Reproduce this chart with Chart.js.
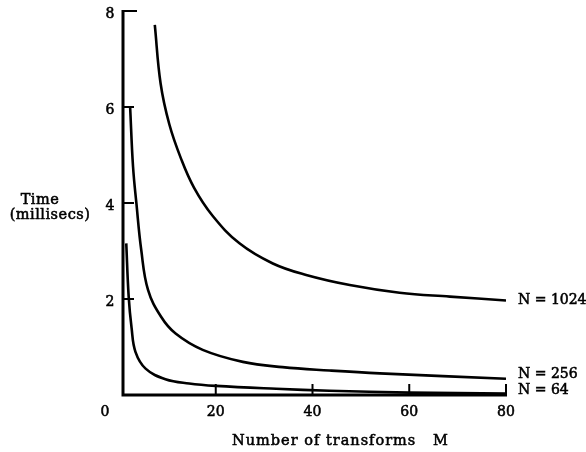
<!DOCTYPE html>
<html>
<head>
<meta charset="utf-8">
<script src="https://cdn.jsdelivr.net/npm/chart.js@4"></script>
<style>
  html, body { margin: 0; padding: 0; background: #fff; }
  #wrap { width: 586px; height: 452px; position: relative; }
</style>
</head>
<body>
<div id="wrap"><canvas id="myChart"></canvas></div>
<script>
// values: number of transforms M vs time (millisecs)
const m1024 = [7.4, 8.6, 10.4, 12.8, 15.5, 19.3, 24.9, 31.8, 38.7, 47.7, 58, 68.4, 80];
const t1024 = [7.71, 6.49, 5.64, 4.93, 4.32, 3.74, 3.16, 2.74, 2.5, 2.29, 2.13, 2.05, 1.97];

const m256 = [2.3, 2.9, 3.6, 4.6, 6.0, 8.7, 11.7, 17.3, 25.6, 33.8, 43.5, 53.9, 80];
const t256 = [6.0, 4.76, 3.99, 3.02, 2.19, 1.63, 1.28, 0.94, 0.69, 0.58, 0.51, 0.45, 0.34];

const m64 = [1.5, 2.0, 2.6, 3.4, 5.5, 9.6, 14.5, 20, 32.5, 43.5, 60, 80];
const t64 = [3.16, 2.05, 1.4, 0.9, 0.55, 0.33, 0.24, 0.19, 0.13, 0.09, 0.05, 0.03];

const seriesLabels = ['N = 1024', 'N = 256', 'N = 64'];
const xTicks = [0, 20, 40, 60, 80];
const yTicks = [2, 4, 6, 8];
const yTitle = ['Time', '(millisecs)'];
const xTitle = 'Number of transforms   M';

const FONT = "14px 'DejaVu Serif'";
const TITLE_FONT = "14.5px 'DejaVu Serif'";

function pts(xs, ys) {
  return xs.map((x, i) => ({x: x, y: ys[i]}));
}

// fill + thin stroke gives the medium weight of the printed labels
function text(ctx, s, x, y) {
  ctx.fillText(s, x, y);
  ctx.strokeText(s, x, y);
}

// draws the hand-drawn style axes, inward ticks and all the text
const axesPlugin = {
  id: 'axesPlugin',
  afterDraw(chart) {
    const ctx = chart.ctx;
    const xs = chart.scales.x, ys = chart.scales.y;
    const x0 = xs.getPixelForValue(0) + 4;
    const y0 = ys.getPixelForValue(0);
    ctx.save();
    ctx.strokeStyle = '#000';
    ctx.fillStyle = '#000';
    ctx.lineWidth = 3;
    ctx.lineCap = 'butt';
    // axis lines
    ctx.beginPath();
    ctx.moveTo(x0, ys.getPixelForValue(8) - 1);
    ctx.lineTo(x0, y0);
    ctx.lineTo(xs.getPixelForValue(80) + 1, y0);
    ctx.stroke();
    // y ticks pointing right
    ctx.lineWidth = 2;
    yTicks.forEach(v => {
      const py = ys.getPixelForValue(v);
      ctx.beginPath();
      ctx.moveTo(x0, py);
      ctx.lineTo(x0 + (v === 8 ? 14 : 11), py);
      ctx.stroke();
    });
    // x ticks pointing up
    xTicks.forEach(v => {
      if (v === 0) return;
      const px = xs.getPixelForValue(v);
      ctx.beginPath();
      ctx.moveTo(px, y0);
      ctx.lineTo(px, y0 - 11);
      ctx.stroke();
    });
    ctx.lineWidth = 0.55;
    ctx.font = FONT;
    ctx.textBaseline = 'middle';
    ctx.textAlign = 'center';
    yTicks.forEach(v => {
      text(ctx, String(v), x0 - 13, ys.getPixelForValue(v) + 3);
    });
    xTicks.forEach(v => {
      const px = v === 0 ? xs.getPixelForValue(0) - 14 : xs.getPixelForValue(v);
      text(ctx, String(v), px, y0 + 17);
    });
    // series labels at the right end of each curve
    ctx.textAlign = 'left';
    const ends = [t1024[t1024.length - 1], t256[t256.length - 1], t64[t64.length - 1]];
    const offs = [0, -4, -3];
    ends.forEach((v, i) => {
      text(ctx, seriesLabels[i], xs.getPixelForValue(80) + 12, ys.getPixelForValue(v) + offs[i]);
    });
    // axis titles
    ctx.font = TITLE_FONT;
    ctx.letterSpacing = '1px';
    text(ctx, xTitle, 232, 441);
    ctx.textAlign = 'center';
    ctx.letterSpacing = '0.5px';
    text(ctx, yTitle[0], 40, 200);
    text(ctx, yTitle[1], 50, 215);
    ctx.restore();
  }
};

const lineStyle = {
  borderColor: '#000',
  borderWidth: 2.6,
  pointRadius: 0,
  fill: false,
  tension: 0.4
};

new Chart(document.getElementById('myChart'), {
  type: 'line',
  data: {
    datasets: [
      Object.assign({label: seriesLabels[0], data: pts(m1024, t1024)}, lineStyle),
      Object.assign({label: seriesLabels[1], data: pts(m256, t256)}, lineStyle),
      Object.assign({label: seriesLabels[2], data: pts(m64, t64)}, lineStyle)
    ]
  },
  options: {
    responsive: true,
    maintainAspectRatio: false,
    animation: false,
    layout: { padding: { left: 119, right: 80, top: 11, bottom: 57 } },
    plugins: { legend: { display: false }, tooltip: { enabled: false } },
    scales: {
      x: { type: 'linear', min: 0, max: 80, display: false },
      y: { type: 'linear', min: 0, max: 8, display: false }
    }
  },
  plugins: [axesPlugin]
});
</script>
</body>
</html>
